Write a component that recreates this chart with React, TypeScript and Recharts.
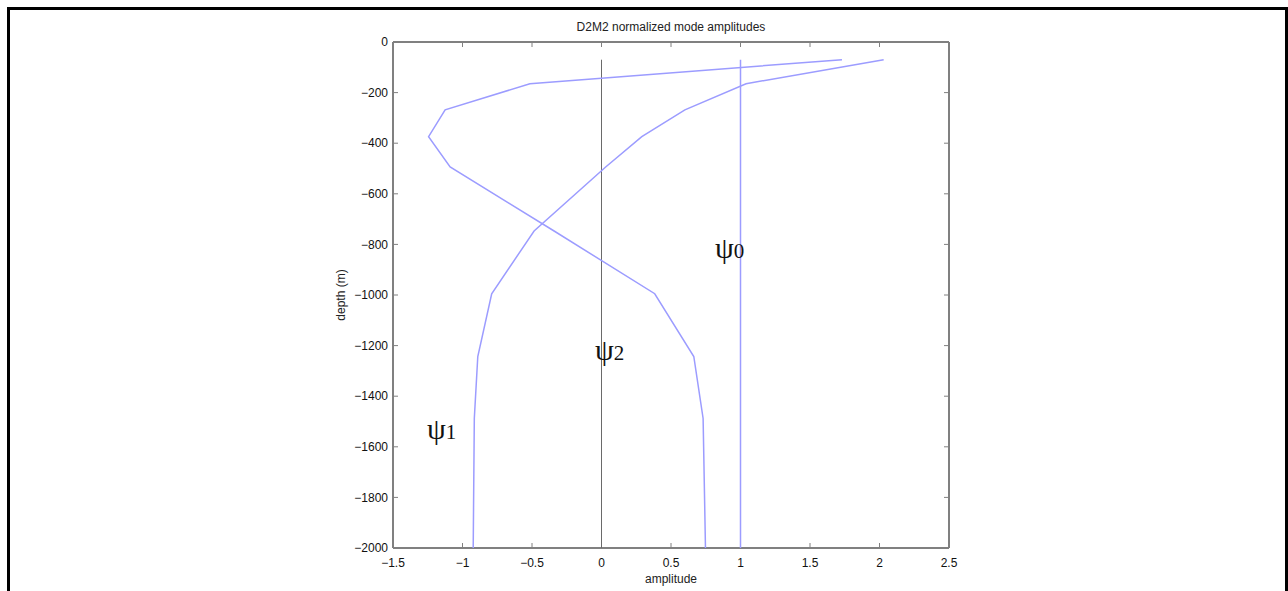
import React from 'react';
import { ScatterChart, Scatter, XAxis, YAxis } from 'recharts';

// depth levels (m) where the mode shapes were sampled
const depths = [-70, -165, -268, -374, -494, -747, -995, -1243, -1488, -2000];
// first baroclinic mode (one zero crossing)
const psi1Amp = [2.03, 1.04, 0.6, 0.29, 0.03, -0.485, -0.79, -0.89, -0.915, -0.923];
// second baroclinic mode (two zero crossings)
const psi2Amp = [1.73, -0.515, -1.125, -1.244, -1.089, -0.341, 0.383, 0.664, 0.731, 0.748];
// barotropic mode and the zero reference line
const psi0Amp = [1, 1];
const zeroAmp = [0, 0];
const fullDepths = [-70, -2000];

const xTicks = [-1.5, -1, -0.5, 0, 0.5, 1, 1.5, 2, 2.5];
const yTicks = [-2000, -1800, -1600, -1400, -1200, -1000, -800, -600, -400, -200, 0];

const toPoints = (amps: number[], ds: number[]) => amps.map((a, i) => ({ amp: a, depth: ds[i] }));

const psi1Data = toPoints(psi1Amp, depths);
const psi2Data = toPoints(psi2Amp, depths);
const psi0Data = toPoints(psi0Amp, fullDepths);
const zeroData = toPoints(zeroAmp, fullDepths);

const modeColor = '#9c9cff';
const frameColor = '#808080';
const sans = '"Liberation Sans", Arial, Helvetica, sans-serif';
const serif = '"Liberation Serif", "Times New Roman", serif';

const fmt = (v: number) => String(v).replace('-', '\u2212');
const blank = () => '';
const noDot = () => <g />;

const tickStyle = { fill: '#111', fontSize: 12, fontFamily: sans };

function PsiLabel({ left, top, sub }: { left: number; top: number; sub: string }) {
  return (
    <div style={{ position: 'absolute', left, top, fontFamily: serif, color: '#111', lineHeight: 1, whiteSpace: 'nowrap' }}>
      <span style={{ fontSize: 30 }}>ψ</span>
      <span style={{ fontSize: 21 }}>{sub}</span>
    </div>
  );
}

export default function App() {
  return (
    <div style={{ position: 'relative', width: 1288, height: 591, background: '#fff', overflow: 'hidden' }}>
      <style>{'html,body{margin:0;padding:0;overflow:hidden;background:#fff}'}</style>
      <div
        style={{
          position: 'absolute',
          left: 7,
          top: 7,
          width: 1281,
          height: 600,
          boxSizing: 'border-box',
          border: '3px solid #000',
        }}
      />
      <ScatterChart width={1288} height={591} margin={{ top: 41, right: 338, bottom: 13, left: 333 }}>
        <XAxis
          dataKey="amp"
          type="number"
          domain={[-1.5, 2.5]}
          ticks={xTicks}
          tickFormatter={fmt}
          height={30}
          tickSize={-5}
          tickMargin={15}
          tick={tickStyle}
          axisLine={{ stroke: frameColor, strokeWidth: 2 }}
          tickLine={{ stroke: frameColor }}
          allowDataOverflow
        />
        <XAxis
          xAxisId="top"
          orientation="top"
          dataKey="amp"
          type="number"
          domain={[-1.5, 2.5]}
          ticks={xTicks}
          tickFormatter={blank}
          height={1}
          tickSize={-5}
          tick={tickStyle}
          axisLine={{ stroke: frameColor, strokeWidth: 2 }}
          tickLine={{ stroke: frameColor }}
          allowDataOverflow
        />
        <YAxis
          dataKey="depth"
          type="number"
          domain={[-2000, 0]}
          ticks={yTicks}
          tickFormatter={fmt}
          width={60}
          tickSize={-5}
          tickMargin={10}
          tick={tickStyle}
          axisLine={{ stroke: frameColor, strokeWidth: 2 }}
          tickLine={{ stroke: frameColor }}
          allowDataOverflow
        />
        <YAxis
          yAxisId="right"
          orientation="right"
          dataKey="depth"
          type="number"
          domain={[-2000, 0]}
          ticks={yTicks}
          tickFormatter={blank}
          width={1}
          tickSize={-5}
          tick={tickStyle}
          axisLine={{ stroke: frameColor, strokeWidth: 2 }}
          tickLine={{ stroke: frameColor }}
          allowDataOverflow
        />
        <Scatter data={zeroData} line={{ stroke: '#6a6a6a', strokeWidth: 1 }} shape={noDot} isAnimationActive={false} />
        <Scatter data={psi0Data} line={{ stroke: modeColor, strokeWidth: 1.5 }} shape={noDot} isAnimationActive={false} />
        <Scatter data={psi1Data} line={{ stroke: modeColor, strokeWidth: 1.5 }} shape={noDot} isAnimationActive={false} />
        <Scatter data={psi2Data} line={{ stroke: modeColor, strokeWidth: 1.5 }} shape={noDot} isAnimationActive={false} />
        {/* invisible series so the mirrored top/right frame axes get drawn */}
        <Scatter
          data={zeroData}
          xAxisId="top"
          yAxisId="right"
          shape={noDot}
          isAnimationActive={false}
        />
      </ScatterChart>
      <div style={{ position: 'absolute', left: 393, width: 556, top: 20, textAlign: 'center', fontFamily: sans, fontSize: 12, color: '#222' }}>
        D2M2 normalized mode amplitudes
      </div>
      <div style={{ position: 'absolute', left: 393, width: 556, top: 572, textAlign: 'center', fontFamily: sans, fontSize: 12, color: '#222' }}>
        amplitude
      </div>
      <div
        style={{
          position: 'absolute',
          left: 341,
          top: 295,
          transform: 'translate(-50%, -50%) rotate(-90deg)',
          fontFamily: sans,
          fontSize: 12,
          color: '#222',
          whiteSpace: 'nowrap',
        }}
      >
        depth (m)
      </div>
      <PsiLabel left={715} top={233} sub="0" />
      <PsiLabel left={595} top={335} sub="2" />
      <PsiLabel left={427} top={414} sub="1" />
    </div>
  );
}
